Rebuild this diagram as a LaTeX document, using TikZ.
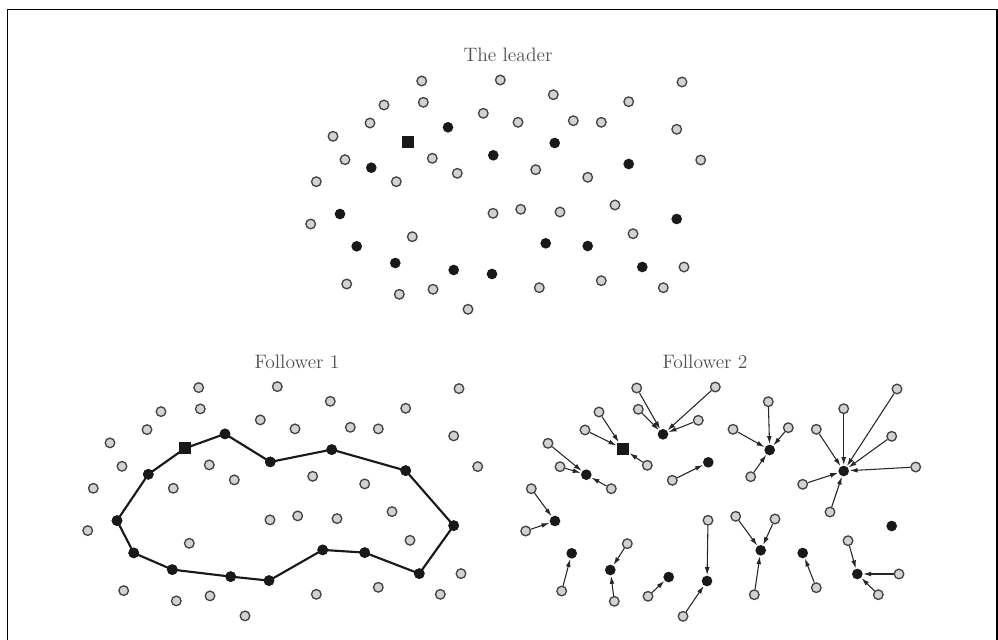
\documentclass[tikz,border=0pt]{standalone}
\usetikzlibrary{arrows.meta}
\definecolor{ptfill}{HTML}{D2D2D2}
\definecolor{ptdraw}{HTML}{444444}
\definecolor{lblcol}{HTML}{505050}
\tikzset{
  gp/.style={circle,inner sep=0pt,minimum size=7.2pt,fill=ptfill,draw=ptdraw,line width=1pt},
  bp/.style={circle,inner sep=0pt,minimum size=8pt,fill=black!90},
  sqp/.style={rectangle,inner sep=0pt,minimum size=9pt,fill=black!90},
  arr/.style={draw=black!85,line width=0.8pt,-{Latex[length=6pt,width=3.6pt]},shorten >=0.2pt},
  hull/.style={draw=black!90,line width=1.6pt,line join=round},
  lbl/.style={text=lblcol,font=\fontsize{14.6}{17}\selectfont}
}
\newcommand\placepts[1]{%
  \foreach \n/\px/\py in {g1/421.7/81,g2/500.3/80,g3/682/82,g4/553.3/94.7,g5/628.7/101.7,
    g6/384/105,g7/423.3/102.3,g8/483.3/113.3,g9/370/123,g10/518/122.3,g11/573.3/120.7,
    g12/601.3/122.3,g13/676.7/129.3,g14/333/136.3,g15/345/159.7,g16/432.3/158.3,
    g17/457.3/173.3,g18/535.7/169.7,g19/587.7/177.3,g20/700.7/160,g21/316.3/181.7,
    g22/396.3/181.7,g23/615/205,g24/493/213.3,g25/520.7/209.3,g26/560/212,g27/310.7/224,
    g28/412.3/236.7,g29/633/233.7,g30/684/267,g31/346.7/284,g32/399.3/294.3,g33/433/289.3,
    g34/539.3/287.7,g35/601.3/280.7,g36/663.3/287.7,g37/468/309.3}
    {\node[gp] (#1\n) at (\px,\py) {};}
  \foreach \n/\px/\py in {b1/448/127.3,b2/554.7/143,b3/493.3/155.3,b4/371.3/167.7,
    b5/628.7/164,b6/340/214,b7/676.7/219,b8/356.7/246.3,b9/545.7/243.3,b10/587.7/246,
    b11/395.3/263,b12/453.7/270,b13/492/274,b14/642.3/267}
    {\node[bp] (#1\n) at (\px,\py) {};}
  \node[sqp] (#1sq) at (408,141.7) {};
}
\begin{document}
\begin{tikzpicture}[x=0.75pt,y=-0.75pt]
\useasboundingbox (0,0) rectangle (998,639);
% frame
\draw[line width=1.3pt] (7.5,640) -- (7.5,9.5) -- (996.8,9.5) -- (996.8,640);
% labels
\node[lbl] (tl) at (508,55) {The leader};
\node[lbl] (tf1) at (297,362) {Follower 1};
\node[lbl] (tf2) at (705,362) {Follower 2};
% leader
\begin{scope}
  \placepts{L-}
\end{scope}
% follower 1
\begin{scope}[shift={(-223,306.6)}]
  \placepts{F-}
  \draw[hull] (F-sq.center) -- (F-b1.center) -- (F-b3.center) -- (F-b2.center) -- (F-b5.center)
    -- (F-b7.center) -- (F-b14.center) -- (F-b10.center) -- (F-b9.center) -- (F-b13.center)
    -- (F-b12.center) -- (F-b11.center) -- (F-b8.center) -- (F-b6.center) -- (F-b4.center) -- cycle;
  \node[sqp] at (F-sq) {};
  \foreach \b in {b1,b2,b3,b4,b5,b6,b7,b8,b9,b10,b11,b12,b13,b14} {\node[bp] at (F-\b) {};}
\end{scope}
% follower 2
\begin{scope}[shift={(215,307)}]
  \placepts{S-}
  \foreach \g/\t in {g1/b1,g2/b1,g3/b5,g4/b2,g5/b5,g6/sq,g7/b1,g8/b1,g9/sq,g10/b2,g11/b2,
    g12/b5,g13/b5,g14/b4,g15/b4,g16/sq,g17/b3,g18/b2,g19/b5,g20/b5,g21/b6,g22/b4,g23/b5,
    g24/b13,g25/b9,g26/b9,g27/b6,g28/b11,g29/b14,g30/b14,g31/b8,g32/b11,g33/b12,g34/b9,
    g35/b10,g36/b14,g37/b13}
    {\draw[arr] (S-\g) -- (S-\t);}
\end{scope}
\end{tikzpicture}
\end{document}
